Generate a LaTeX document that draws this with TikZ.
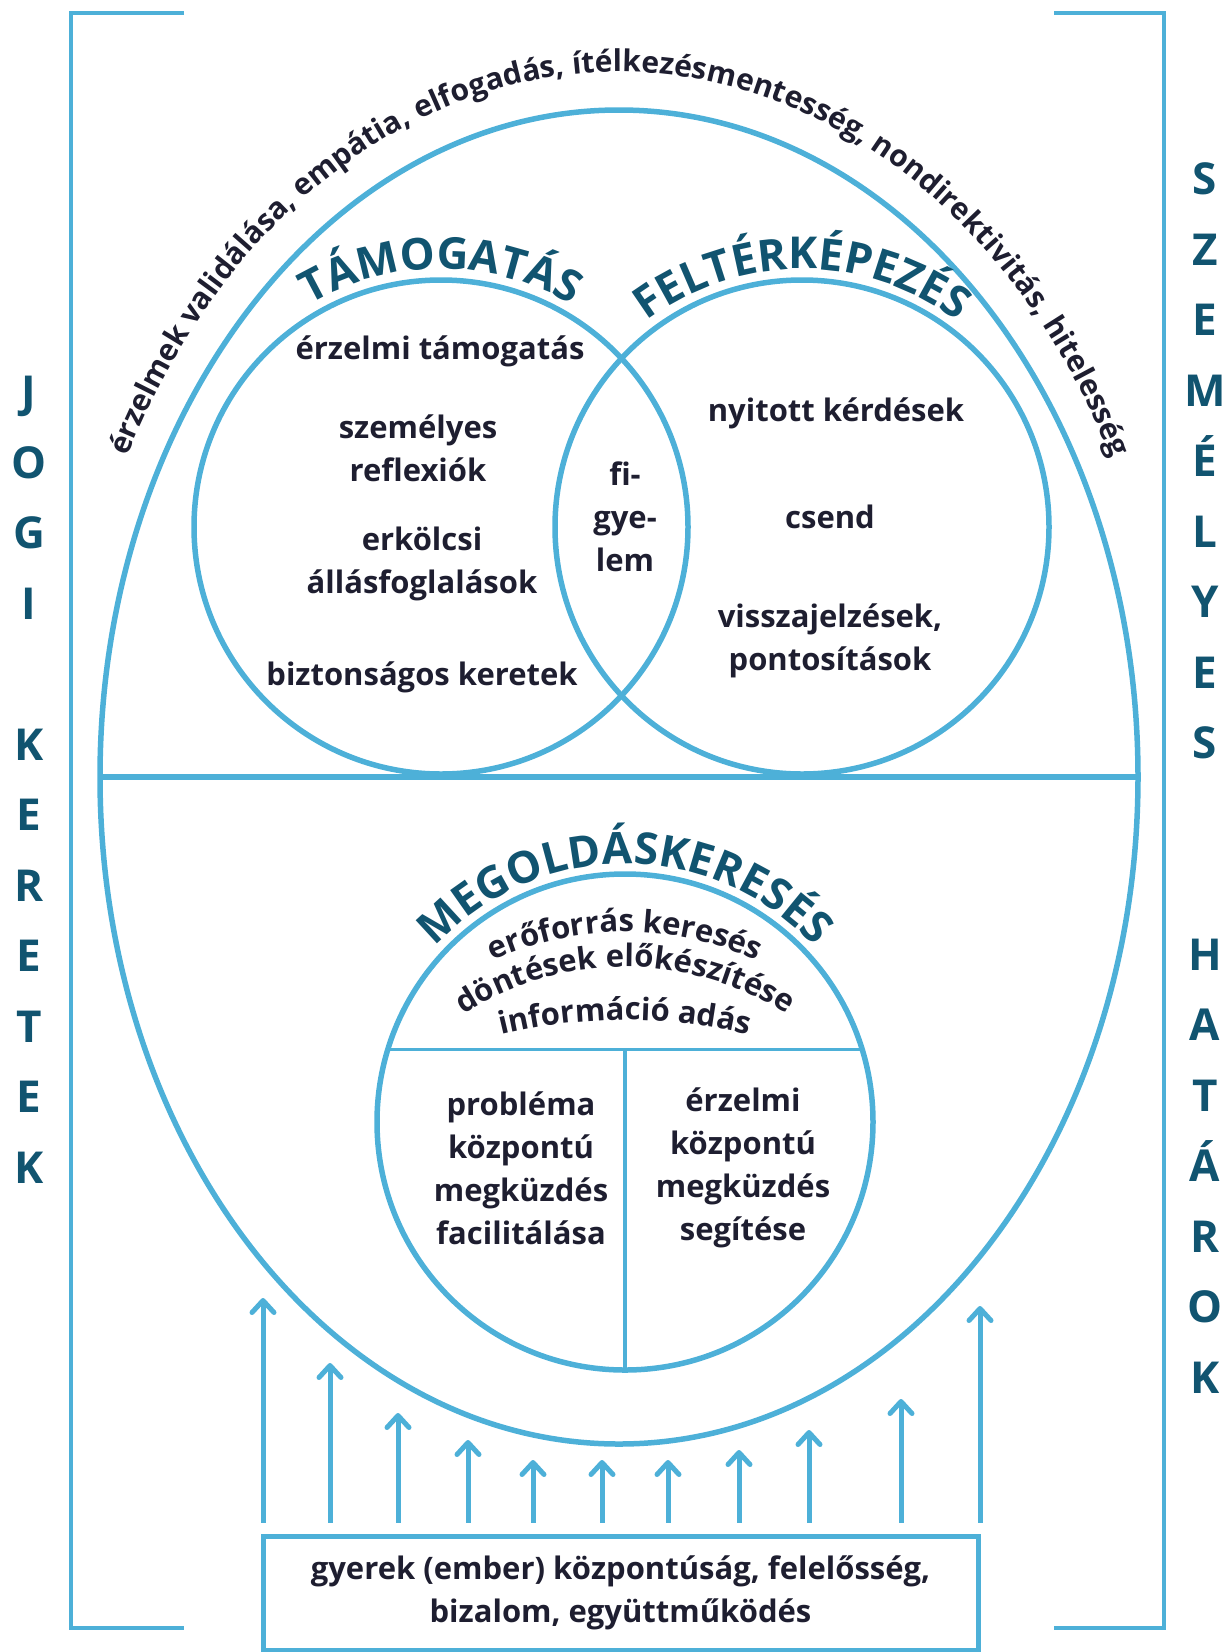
\documentclass[tikz,border=0pt]{standalone}
\usepackage{fontspec}
\setmainfont{Open Sans}
\usepackage{tikz}
\usetikzlibrary{arrows.meta,positioning,shapes.geometric,decorations.text}
\definecolor{lineblue}{RGB}{77,176,216}
\definecolor{deepteal}{RGB}{17,84,112}
\definecolor{inkdark}{RGB}{30,30,48}
\newcommand{\bodyfont}{\bfseries\fontsize{31}{43}\selectfont}
\newcommand{\titlefont}{\bfseries\fontsize{44}{44}\selectfont\color{deepteal}}
\newcommand{\arcfont}{\bfseries\fontsize{30}{30}\selectfont\color{inkdark}}

\begin{document}
\begin{tikzpicture}[
    x=1pt,y=-1pt,
    ring/.style={draw=lineblue,line width=5.5pt,inner sep=0pt,outer sep=0pt},
    divider/.style={draw=lineblue,line width=3.5pt},
    bracket/.style={draw=lineblue,line width=4.5pt},
    txt/.style={font=\bodyfont,text=inkdark,align=center,inner sep=0pt},
    sidetxt/.style={font=\bfseries\fontsize{44}{70.5}\selectfont,text=deepteal,align=center,inner sep=0pt},
    arrow/.style={-{Straight Barb[length=12pt,width=22pt,round]},draw=lineblue,line width=5pt,shorten <=11pt},
    arctext/.style={decorate,decoration={text along path,text align=center,text={#1}}},
    fittext/.style={decorate,decoration={text along path,text align=fit to path,text={#1}}}
]
\useasboundingbox (0,0) rectangle (1231,1652);

\node[ring,ellipse,minimum width=1038pt,minimum height=1334pt] (outer) at (619,777) {};
\draw[ring] (outer.west) -- (outer.east);

\node[ring,circle,minimum size=494pt] (support) at (441,527) {};
\node[ring,circle,minimum size=494pt] (explore) at (802,527) {};
\node[ring,circle,minimum size=496pt] (solution) at (625,1122) {};
\draw[divider] (solution.163) -- (solution.17);
\draw[divider] (solution.center |- solution.17) -- (solution.south);

\path[fittext={|\arcfont|érzelmek validálása, empátia, elfogadás, ítélkezésmentesség, nondirektivitás, hitelesség}]
    (outer.center) ++(207:552 and 705) arc[start angle=207,end angle=333,x radius=552,y radius=705];
\path[arctext={|\titlefont|TÁMOGATÁS}] (support.center) ++(220:258) arc[start angle=220,end angle=320,radius=258];
\path[arctext={|\titlefont|FELTÉRKÉPEZÉS}] (explore.center) ++(210:258) arc[start angle=210,end angle=330,radius=258];
\path[arctext={|\titlefont|MEGOLDÁSKERESÉS}] (solution.center) ++(200:258) arc[start angle=200,end angle=340,radius=258];

\path[arctext={|\bodyfont\color{inkdark}|erőforrás keresés}] (625,1252) ++(235:320) arc[start angle=235,end angle=305,radius=320];
\path[arctext={|\bodyfont\color{inkdark}|döntések előkészítése}] (625,1267) ++(225:300) arc[start angle=225,end angle=315,radius=300];
\path[arctext={|\bodyfont\color{inkdark}|információ adás}] (625,1540) ++(250:520) arc[start angle=250,end angle=290,radius=520];

\node[txt] (emosupport) at (440,351) {érzelmi támogatás};
\node[txt] (reflection) at (418,448) {személyes\\reflexiók};
\node[txt] (moral) at (422,564) {erkölcsi\\állásfoglalások};
\node[txt] (safeframe) at (422,677) {biztonságos keretek};
\node[txt] (attention) at (625,517) {fi-\\gye-\\lem};
\node[txt] (openq) at (836,413) {nyitott kérdések};
\node[txt] (silence) at (830,517) {csend};
\node[txt] (feedback) at (830,641) {visszajelzések,\\pontosítások};
\node[txt] (problem) at (521,1168) {probléma\\központú\\megküzdés\\facilitálása};
\node[txt] (emotion) at (743,1168) {érzelmi\\központú\\megküzdés\\segítése};

\node[txt,draw=lineblue,line width=5pt,minimum width=715pt,minimum height=114pt] (base) at (620.5,1593)
    {gyerek (ember) központúság, felelősség,\\bizalom, együttműködés};

\node[sidetxt] (legal) at (29,780) {J\\O\\G\\I\\\mbox{}\\K\\E\\R\\E\\T\\E\\K};
\node[sidetxt] (personal) at (1205,778) {S\\Z\\E\\M\\É\\L\\Y\\E\\S\\\mbox{}\\\mbox{}\\H\\A\\T\\Á\\R\\O\\K};

\draw[bracket] (184,13) -- (71,13) -- (71,1628) -- (184,1628);
\draw[bracket] (1054,13) -- (1164,13) -- (1164,1628) -- (1054,1628);

\coordinate (a1) at (263,1298);
\coordinate (a2) at (330,1363);
\coordinate (a3) at (398,1413);
\coordinate (a4) at (468,1440);
\coordinate (a5) at (533,1460);
\coordinate (a6) at (602,1460);
\coordinate (a7) at (668,1460);
\coordinate (a8) at (739,1450);
\coordinate (a9) at (809,1430);
\coordinate (a10) at (901,1399);
\coordinate (a11) at (980,1306);

\draw[arrow] (a1 |- base.north) -- (a1);
\draw[arrow] (a2 |- base.north) -- (a2);
\draw[arrow] (a3 |- base.north) -- (a3);
\draw[arrow] (a4 |- base.north) -- (a4);
\draw[arrow] (a5 |- base.north) -- (a5);
\draw[arrow] (a6 |- base.north) -- (a6);
\draw[arrow] (a7 |- base.north) -- (a7);
\draw[arrow] (a8 |- base.north) -- (a8);
\draw[arrow] (a9 |- base.north) -- (a9);
\draw[arrow] (a10 |- base.north) -- (a10);
\draw[arrow] (a11 |- base.north) -- (a11);
\end{tikzpicture}
\end{document}
